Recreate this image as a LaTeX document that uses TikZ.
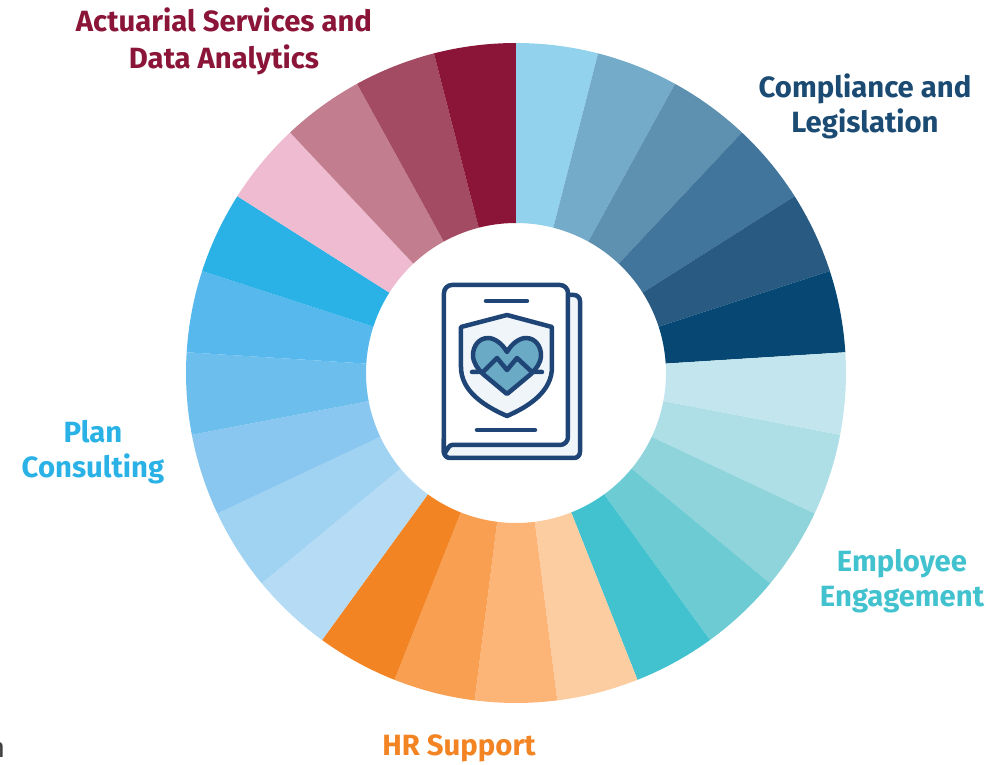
\documentclass[tikz,border=0pt]{standalone}
\usepackage{fontspec}
\setmainfont{Fira Sans}
\usetikzlibrary{calc}
\definecolor{actOne}{HTML}{EFBBD0}
\definecolor{actTwo}{HTML}{C27E8E}
\definecolor{actThree}{HTML}{A34B63}
\definecolor{actFour}{HTML}{8A1538}
\definecolor{comOne}{HTML}{93D2EC}
\definecolor{comTwo}{HTML}{74ABC8}
\definecolor{comThree}{HTML}{5E91B0}
\definecolor{comFour}{HTML}{42759B}
\definecolor{comFive}{HTML}{295B82}
\definecolor{comSix}{HTML}{064873}
\definecolor{comText}{HTML}{1B4B73}
\definecolor{empOne}{HTML}{C3E6EE}
\definecolor{empTwo}{HTML}{AEDFE6}
\definecolor{empThree}{HTML}{8FD4DB}
\definecolor{empFour}{HTML}{6CCBD3}
\definecolor{empFive}{HTML}{42C2CE}
\definecolor{hrOne}{HTML}{FDCDA2}
\definecolor{hrTwo}{HTML}{FCB477}
\definecolor{hrThree}{HTML}{F89F52}
\definecolor{hrFour}{HTML}{F38423}
\definecolor{planOne}{HTML}{B6DCF5}
\definecolor{planTwo}{HTML}{A0D2F2}
\definecolor{planThree}{HTML}{89C7F0}
\definecolor{planFour}{HTML}{6CBEEC}
\definecolor{planFive}{HTML}{56B8EC}
\definecolor{planSix}{HTML}{2AB2E6}
\definecolor{iconline}{HTML}{1F4476}
\definecolor{iconpale}{HTML}{F0F5F9}
\definecolor{iconheart}{HTML}{6BAAC5}
\tikzstyle{area}=[font=\fontsize{29.3}{36}\selectfont\bfseries,align=center,inner sep=0pt]
\tikzstyle{iconstroke}=[draw=iconline,line width=4.5pt,line join=round,line cap=round]

\begin{document}
\begin{tikzpicture}[x=1pt,y=1pt]
    \useasboundingbox (-516,-392) rectangle (488,373);

    % Draw the ring, one wedge per colour
    \foreach \idx/\col in {0/comOne,1/comTwo,2/comThree,3/comFour,4/comFive,5/comSix,
        6/empOne,7/empTwo,8/empThree,9/empFour,10/empFive,
        11/hrOne,12/hrTwo,13/hrThree,14/hrFour,
        15/planOne,16/planTwo,17/planThree,18/planFour,19/planFive,20/planSix,
        21/actOne,22/actTwo,23/actThree,24/actFour}
        \fill[fill=\col] ({90-\idx*14.4}:150) -- ({90-\idx*14.4}:330)
            arc[start angle={90-\idx*14.4},end angle={90-(\idx+1)*14.4},radius=330]
            -- ({90-(\idx+1)*14.4}:150)
            arc[start angle={90-(\idx+1)*14.4},end angle={90-\idx*14.4},radius=150] -- cycle;

    % Now the labels
    \node[area,text=actFour] (actuarial) at (-292,332) {Actuarial Services and\\[1pt]Data Analytics};
    \node[area,text=comText] (compliance) at (349,267) {Compliance and\\[-1pt]Legislation};
    \node[area,text=planSix] (plan) at (-423,-79) {Plan\\[-1pt]Consulting};
    \node[area,text=empFive] (employee) at (386,-208) {Employee\\[-1pt]Engagement};
    \node[area,text=hrFour] (hr) at (-57,-375) {HR Support};
    \node[font=\fontsize{28}{28}\selectfont,text=black!75] (cut) at (-519,-377) {n};

    % Back page and front page of the icon
    \draw[iconstroke,fill=iconpale] (52,78) -- (58,78) to[out=0,in=90] (64,72) -- (64,-79)
        to[out=-90,in=0] (58,-85) -- (-66,-85) to[out=180,in=-90] (-72,-79) -- (-72,-66) -- cycle;
    \draw[iconstroke,fill=white] (-64,88) -- (44,88) to[out=0,in=90] (52,80) -- (52,-64)
        to[out=-90,in=0] (44,-72) -- (-64,-72) to[out=180,in=-90] (-72,-80)
        -- (-72,80) to[out=90,in=180] cycle;
    \draw[iconstroke] (-30,72) -- (11,72);
    \draw[iconstroke] (-39,-57) -- (19,-57);

    % Shield, heart and pulse
    \draw[iconstroke,fill=iconpale] (-9,58) -- (36,46) -- (36,6)
        .. controls (36,-18) and (14,-33) .. (-9,-43)
        .. controls (-32,-33) and (-55,-18) .. (-55,6) -- (-55,46) -- cycle;
    \draw[iconstroke,fill=iconheart] (-9,21)
        .. controls (-14,30) and (-22,35) .. (-28,35)
        .. controls (-37,35) and (-43,27) .. (-43,18)
        .. controls (-43,10) and (-38,4) .. (-33,-1) -- (-9,-21) -- (15,-1)
        .. controls (20,4) and (25,10) .. (25,18)
        .. controls (25,27) and (19,35) .. (10,35)
        .. controls (4,35) and (-4,30) .. (-9,21) -- cycle;
    \draw[iconstroke] (-44,1) -- (-33,1) -- (-19,15) -- (-9,3) -- (1,15) -- (16,1) -- (26,1);
\end{tikzpicture}
\end{document}
